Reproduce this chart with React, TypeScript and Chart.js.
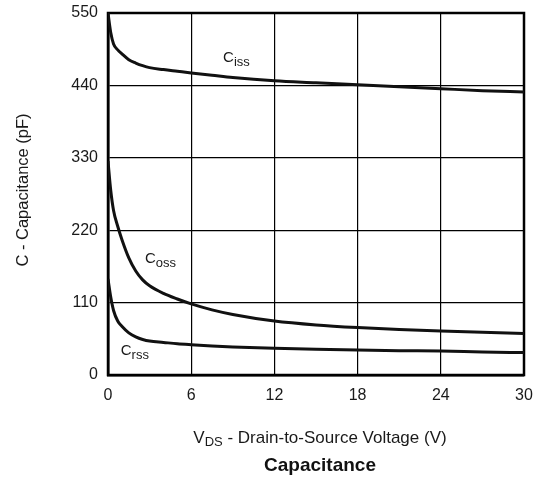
import React, { useEffect, useRef } from "react";
import { Chart, registerables } from "chart.js";

Chart.register(...registerables);

const voltages = [0, 0.2, 0.4, 0.7, 1, 1.5, 2, 2.5, 3, 4, 5, 6, 7.5, 9, 12, 15, 18, 21, 24, 27, 30];
const ciss = [550, 520, 503, 494, 488, 479, 474, 470, 467, 464, 461.5, 459, 455.5, 452, 447, 444, 441, 438, 435, 432, 430];
const coss = [325, 280, 250, 226, 206, 178, 158, 144.5, 135.5, 124, 115.5, 108, 99, 92, 82, 76, 72, 69, 67, 65, 63];
const crss = [146, 118, 98, 82, 74, 64, 58, 54, 51.5, 49.5, 47.5, 46, 44, 42.5, 40.5, 39, 38, 37, 36.5, 35, 34];

const seriesNames = ["Ciss", "Coss", "Crss"];
const curveLabels = [
  { main: "C", sub: "iss", x: 8.3, y: 475 },
  { main: "C", sub: "oss", x: 2.67, y: 170 },
  { main: "C", sub: "rss", x: 0.92, y: 30 },
];
const yTitle = "C - Capacitance (pF)";
const xTitleMain = "V";
const xTitleSub = "DS";
const xTitleRest = " - Drain-to-Source Voltage (V)";
const chartTitle = "Capacitance";

const FONT = "'Liberation Sans', Arial, sans-serif";

export default function App() {
  const ref = useRef<HTMLCanvasElement | null>(null);

  useEffect(() => {
    document.body.style.margin = "0";
    const canvas = ref.current;
    if (!canvas) return;

    const mk = (vals: number[]) => vals.map((v, i) => ({ x: voltages[i], y: v }));

    const textPlugin = {
      id: "textPlugin",
      beforeDatasetsDraw(chart: any) {
        const { ctx, chartArea } = chart;
        ctx.save();
        ctx.strokeStyle = "#000";
        ctx.lineWidth = 2.5;
        ctx.strokeRect(chartArea.left, chartArea.top, chartArea.right - chartArea.left, chartArea.bottom - chartArea.top);
        ctx.restore();
      },
      afterDraw(chart: any) {
        const { ctx, chartArea, scales } = chart;
        ctx.save();
        ctx.fillStyle = "#1a1a1a";
        ctx.textBaseline = "alphabetic";
        ctx.textAlign = "left";
        curveLabels.forEach((l) => {
          const px = scales.x.getPixelForValue(l.x);
          const py = scales.y.getPixelForValue(l.y);
          ctx.font = `15px ${FONT}`;
          ctx.fillText(l.main, px, py);
          const w = ctx.measureText(l.main).width;
          ctx.font = `13px ${FONT}`;
          ctx.fillText(l.sub, px + w, py + 4);
        });
        // y title
        ctx.save();
        ctx.translate(23, (chartArea.top + chartArea.bottom) / 2 - 4);
        ctx.rotate(-Math.PI / 2);
        ctx.textAlign = "center";
        ctx.textBaseline = "middle";
        ctx.font = `16.5px ${FONT}`;
        ctx.fillText(yTitle, 0, 0);
        ctx.restore();
        // x title
        const cx = (chartArea.left + chartArea.right) / 2 + 4;
        ctx.font = `17px ${FONT}`;
        const wMain = ctx.measureText(xTitleMain).width;
        const wRest = ctx.measureText(xTitleRest).width;
        ctx.font = `13px ${FONT}`;
        const wSub = ctx.measureText(xTitleSub).width;
        const total = wMain + wSub + wRest;
        let sx = cx - total / 2;
        const by = 443;
        ctx.textAlign = "left";
        ctx.font = `17px ${FONT}`;
        ctx.fillText(xTitleMain, sx, by);
        sx += wMain;
        ctx.font = `13px ${FONT}`;
        ctx.fillText(xTitleSub, sx, by + 3);
        sx += wSub;
        ctx.font = `17px ${FONT}`;
        ctx.fillText(xTitleRest, sx, by);
        // chart title
        ctx.textAlign = "center";
        ctx.font = `bold 19px ${FONT}`;
        ctx.fillStyle = "#111";
        ctx.fillText(chartTitle, cx, 471);
        ctx.restore();
      },
    };

    const lineStyle = {
      borderColor: "#111",
      borderWidth: 3,
      pointRadius: 0,
      fill: false,
      cubicInterpolationMode: "monotone" as const,
    };

    const chart = new Chart(canvas, {
      type: "line",
      data: {
        datasets: [
          { label: seriesNames[0], data: mk(ciss), ...lineStyle },
          { label: seriesNames[1], data: mk(coss), ...lineStyle },
          { label: seriesNames[2], data: mk(crss), ...lineStyle },
        ],
      },
      options: {
        animation: false,
        responsive: false,
        devicePixelRatio: 1,
        layout: { padding: { left: 0, top: 13, right: 16, bottom: 0 } },
        plugins: { legend: { display: false }, tooltip: { enabled: false }, title: { display: false } },
        scales: {
          x: {
            type: "linear",
            min: 0,
            max: 30,
            afterFit(scale: any) {
              scale.height = 106;
              scale.paddingLeft = 0;
              scale.paddingRight = 0;
            },
            ticks: { stepSize: 6, padding: 11, color: "#1a1a1a", font: { family: FONT, size: 16 } },
            grid: { color: "#000", lineWidth: 1.2, drawTicks: false },
            border: { display: true, color: "#000", width: 2.5 },
          },
          y: {
            type: "linear",
            min: 0,
            max: 550,
            afterFit(scale: any) {
              scale.width = 108;
              scale.paddingTop = 0;
              scale.paddingBottom = 0;
            },
            ticks: { stepSize: 110, padding: 10, color: "#1a1a1a", font: { family: FONT, size: 16 } },
            grid: { color: "#000", lineWidth: 1.2, drawTicks: false },
            border: { display: true, color: "#000", width: 2.5 },
          },
        },
      },
      plugins: [textPlugin],
    });
    return () => chart.destroy();
  }, []);

  return (
    <div style={{ width: 540, height: 481, background: "#fff" }}>
      <canvas ref={ref} width={540} height={481} style={{ display: "block" }} />
    </div>
  );
}
